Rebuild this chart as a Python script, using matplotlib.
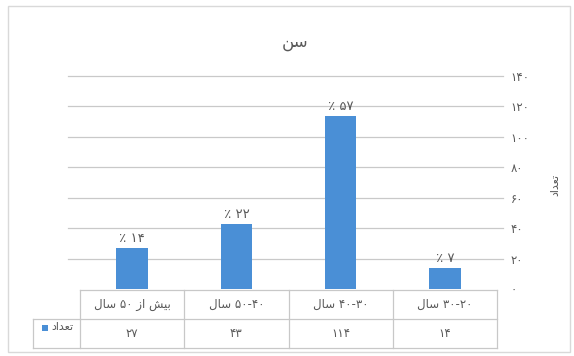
import matplotlib
matplotlib.use("Agg")
import matplotlib.pyplot as plt
from matplotlib.patches import Rectangle
from matplotlib.lines import Line2D
from matplotlib.transforms import blended_transform_factory

# ---------------- data (logical order, first category shown at right) ----------------
categories = ["۲۰-۳۰ سال", "۳۰-۴۰ سال", "۴۰-۵۰ سال", "بیش از ۵۰ سال"]
counts = [14, 114, 43, 27]
percents = [7, 57, 22, 14]
yticks = [0, 20, 40, 60, 80, 100, 120, 140]
title = "سن"
series_name = "تعداد"

# ---------------- minimal Arabic shaping + RTL ordering ----------------
FORMS = {
    'ا': (0xFE8D, 0xFE8E, None, None),
    'ب': (0xFE8F, 0xFE90, 0xFE91, 0xFE92),
    'ت': (0xFE95, 0xFE96, 0xFE97, 0xFE98),
    'د': (0xFEA9, 0xFEAA, None, None),
    'ز': (0xFEAF, 0xFEB0, None, None),
    'س': (0xFEB1, 0xFEB2, 0xFEB3, 0xFEB4),
    'ش': (0xFEB5, 0xFEB6, 0xFEB7, 0xFEB8),
    'ع': (0xFEC9, 0xFECA, 0xFECB, 0xFECC),
    'ل': (0xFEDD, 0xFEDE, 0xFEDF, 0xFEE0),
    'ن': (0xFEE5, 0xFEE6, 0xFEE7, 0xFEE8),
    'ی': (0xFBFC, 0xFBFD, 0xFEF3, 0xFEF4),
}
FA_DIGITS = "۰۱۲۳۴۵۶۷۸۹"


def fa(n):
    return "".join(FA_DIGITS[int(c)] for c in str(n))


def shape(s):
    out = []
    for i, ch in enumerate(s):
        if ch not in FORMS:
            out.append(ch)
            continue
        prev = s[i - 1] if i > 0 else None
        nxt = s[i + 1] if i + 1 < len(s) else None
        jp = prev in FORMS and FORMS[prev][2] is not None
        jn = FORMS[ch][2] is not None and nxt in FORMS
        iso, fin, ini, med = FORMS[ch]
        if jp and jn:
            cp = med
        elif jp:
            cp = fin
        elif jn:
            cp = ini
        else:
            cp = iso
        out.append(chr(cp))
    return "".join(out)


def rtl(s):
    shaped = shape(s)
    tokens = []
    for ch in shaped:
        isd = ch in FA_DIGITS
        if tokens and isd and tokens[-1][0]:
            tokens[-1][1] += ch
        else:
            tokens.append([isd, ch])
    tokens.reverse()
    return "".join(t if d else t[::-1] for d, t in tokens)


TXT = "#595959"
BLUE = "#4a8fd6"
GRID = "#c9c9c9"
BORDER = "#c8c8c8"
plt.rcParams['font.family'] = ['DejaVu Sans']

W, H = 574, 356
fig = plt.figure(figsize=(W / 100, H / 100), dpi=100)

# chart border
fig.patches.append(Rectangle((8 / W, 4 / H), 562 / W, 346 / H, transform=fig.transFigure,
                             fill=False, edgecolor="#d9d9d9", lw=1))

ax = fig.add_axes([80 / W, 1 - 289 / H, 417 / W, 213 / H])
x = list(range(len(categories)))
ax.bar(x, counts, width=0.3, color=BLUE, zorder=3)
ax.set_xlim(len(categories) - 0.5, -0.5)
ax.set_ylim(0, 140)
for s in ax.spines.values():
    s.set_visible(False)
ax.set_xticks([])
ax.yaxis.tick_right()
ax.set_yticks(yticks)
ax.set_yticklabels([fa(v) for v in yticks], fontsize=8.5, color=TXT)
ax.tick_params(axis='y', length=0, pad=10)

for v in yticks:
    if v == 0:
        continue
    ax.add_line(Line2D([-0.029, 1.014], [v / 140, v / 140], transform=ax.transAxes,
                       color=GRID, lw=0.9, clip_on=False, zorder=1))

for xi, c, p in zip(x, counts, percents):
    ax.annotate(rtl(fa(p) + " ٪"), (xi, c), xytext=(0, 2), textcoords="offset points",
                ha="center", va="bottom", fontsize=9.5, color=TXT)

# data table
bt = blended_transform_factory(ax.transData, ax.transAxes)
y_top, y_mid, y_bot = -0.005, -0.141, -0.277
tbl = dict(color=BORDER, lw=0.9, clip_on=False)
ax.add_line(Line2D([-0.5, len(categories) - 0.5], [y_top, y_top], transform=bt, **tbl))
key_left = (33 - 80) / 417
ax.add_line(Line2D([key_left, 1], [y_mid, y_mid], transform=ax.transAxes, **tbl))
ax.add_line(Line2D([key_left, 1], [y_bot, y_bot], transform=ax.transAxes, **tbl))
ax.add_line(Line2D([key_left, key_left], [y_mid, y_bot], transform=ax.transAxes, **tbl))
for b in range(len(categories) + 1):
    ax.add_line(Line2D([b - 0.5, b - 0.5], [y_top, y_bot], transform=bt, **tbl))
for xi, cat, c in zip(x, categories, counts):
    ax.text(xi, (y_top + y_mid) / 2, rtl(cat), transform=bt, ha="center", va="center",
            fontsize=8.5, color=TXT)
    ax.text(xi, (y_mid + y_bot) / 2, fa(c), transform=bt, ha="center", va="center",
            fontsize=8.5, color=TXT)
# legend key
fig.patches.append(Rectangle((42 / W, 1 - 331 / H), 6 / W, 6 / H, transform=fig.transFigure,
                             facecolor=BLUE, edgecolor="none"))
fig.text(51 / W, 1 - 327.5 / H, rtl(series_name), ha="left", va="center", fontsize=8, color=TXT)

fig.text(295 / W, 1 - 42 / H, rtl(title), ha="center", va="center", fontsize=12, color=TXT)
fig.text(555 / W, 1 - 185 / H, rtl(series_name), ha="center", va="center", rotation=90,
         fontsize=8, color=TXT)

fig.savefig("out.png", dpi=100)
